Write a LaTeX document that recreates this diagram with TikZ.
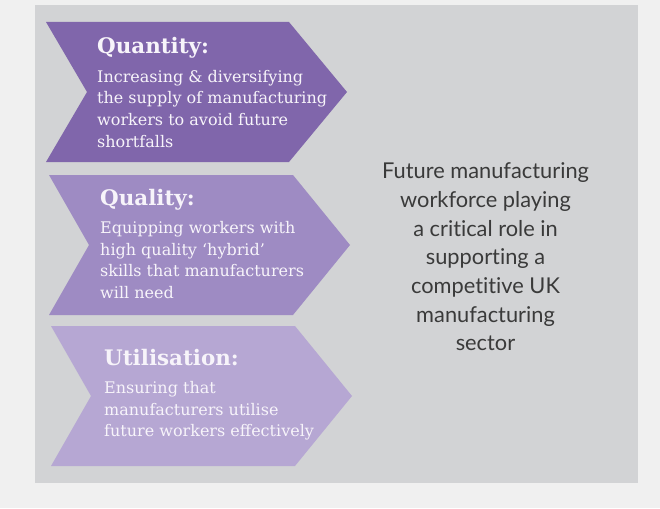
\documentclass[tikz,border=0pt]{standalone}
\usepackage{fontspec}
\setmainfont{DejaVu Serif}
\newfontfamily\gillfont[Ligatures={NoCommon}]{Lato}
\definecolor{outerbg}{HTML}{F0F0F0}
\definecolor{panel}{HTML}{D2D3D5}
\definecolor{chevA}{HTML}{8066AB}
\definecolor{chevB}{HTML}{9E8BC3}
\definecolor{chevC}{HTML}{B6A7D3}
\definecolor{chevtext}{HTML}{F7F4FA}
\definecolor{sidetext}{HTML}{3A3A3A}
\tikzset{
  chevtitle/.style={anchor=base west, inner sep=0pt, text=chevtext, font=\fontsize{21.4}{25}\selectfont\bfseries},
  chevbody/.style={anchor=north west, inner sep=0pt, text=chevtext, align=left, font=\fontsize{16}{21.8}\selectfont},
  sidebox/.style={anchor=north, inner sep=0pt, text=sidetext, align=center, font=\gillfont\fontsize{21.8}{28.7}\selectfont}
}
\begin{document}
\begin{tikzpicture}[x=1pt,y=-1pt]
\useasboundingbox (0,0) rectangle (660,508);
\fill[outerbg] (0,0) rectangle (660,508);
\fill[panel] (35,5) rectangle (638,483);
% chevrons
\fill[chevA] (46,22) -- (289,22) -- (347,92) -- (289,162) -- (46,162) -- (87,92) -- cycle;
\fill[chevB] (49,175) -- (293,175) -- (350,245) -- (293,315) -- (49,315) -- (89,245) -- cycle;
\fill[chevC] (51,326) -- (295,326) -- (352,396) -- (295,466) -- (51,466) -- (91,396) -- cycle;
% texts
\node[chevtitle] (t1) at (97,54) {Quantity:};
\node[chevbody] (b1) at (97,69.8) {Increasing \& diversifying\\the supply of manufacturing\\workers to avoid future\\shortfalls};
\node[chevtitle] (t2) at (100,205) {Quality:};
\node[chevbody] (b2) at (100,221) {Equipping workers with\\high quality ‘hybrid’\\skills that manufacturers\\will need};
\node[chevtitle] (t3) at (104,365) {Utilisation:};
\node[chevbody] (b3) at (104,381) {Ensuring that\\manufacturers utilise\\future workers effectively};
\node[sidebox] (side) at (485.5,162.5) {Future manufacturing\\workforce playing\\a critical role in\\supporting a\\competitive UK\\manufacturing\\sector};
\end{tikzpicture}
\end{document}
